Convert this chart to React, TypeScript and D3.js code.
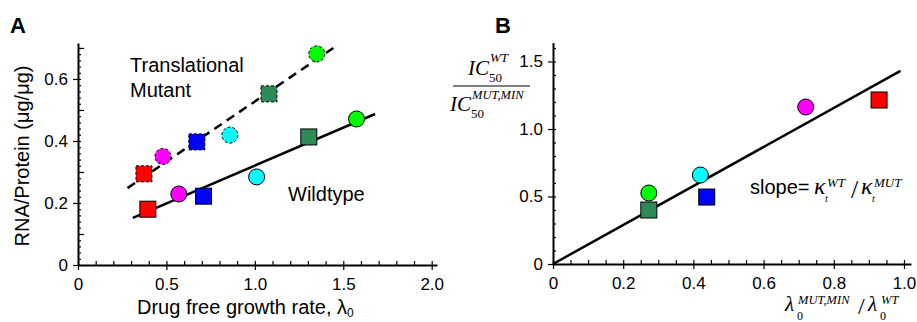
import React, { useEffect, useRef } from 'react';
import * as d3 from 'd3';

// strains, same order in both panels
const strainColors = ['#ff0000', '#ff00ff', '#0000ff', '#00ffff', '#2e8b57', '#00ff00'];
const strainShapes = ['square', 'circle', 'square', 'circle', 'square', 'circle'];

// panel A: drug free growth rate vs RNA/protein
const wtGrowth = [0.395, 0.57, 0.71, 1.01, 1.305, 1.575];
const wtRnaProtein = [0.18, 0.229, 0.222, 0.284, 0.413, 0.471];
const mutGrowth = [0.373, 0.48, 0.672, 0.859, 1.08, 1.35];
const mutRnaProtein = [0.294, 0.35, 0.397, 0.419, 0.552, 0.681];
const wtFitX = [0.31, 1.68];
const wtFitY = [0.152, 0.487];
const mutFitX = [0.28, 1.452];
const mutFitY = [0.248, 0.703];

// panel B: growth rate ratio vs IC50 ratio
const growthRatio = [0.929, 0.72, 0.438, 0.42, 0.273, 0.273];
const ic50Ratio = [1.215, 1.163, 0.496, 0.659, 0.4, 0.526];
const fitBX = [0, 0.99];
const fitBY = [0, 1.43];

const xTicksA = [0, 0.5, 1.0, 1.5, 2.0];
const yTicksA = [0, 0.2, 0.4, 0.6];
const xTicksB = [0, 0.2, 0.4, 0.6, 0.8, 1.0];
const yTicksB = [0, 0.5, 1.0, 1.5];

const SANS = 'Liberation Sans, Arial, Helvetica, sans-serif';
const SERIF = 'Liberation Serif, Times New Roman, serif';

const fmt = (d: number) => (d === 0 ? '0' : d3.format('.1f')(d));

const App = () => {
  const svgRef = useRef<SVGSVGElement>(null);

  useEffect(() => {
    const width = 917;
    const height = 322;
    const svg = d3.select(svgRef.current).attr('width', width).attr('height', height);
    svg.selectAll('*').remove();

    const xA = d3.scaleLinear().domain([0, 2.03]).range([78, 437]);
    const yA = d3.scaleLinear().domain([0, 0.716]).range([265, 43]);
    const xB = d3.scaleLinear().domain([0, 1.02]).range([553, 911]);
    const yB = d3.scaleLinear().domain([0, 1.64]).range([264, 42.6]);

    const styleAxis = (g: any) => {
      g.selectAll('path.domain').attr('stroke', '#000').attr('stroke-width', 2);
      g.selectAll('line').attr('stroke', '#000').attr('stroke-width', 1.2);
      g.selectAll('text').attr('font-family', SANS).attr('font-size', 17).attr('fill', '#000');
    };

    const drawAxes = (x: any, y: any, xTicks: number[], yTicks: number[], xMinor: number[], yMinor: number[], yMid: number[]) => {
      const x0 = x.range()[0];
      const y0 = y.range()[0];
      // minor ticks, inside the plot
      svg.append('g').attr('transform', `translate(0,${y0})`)
        .call(d3.axisTop(x).tickValues(xMinor).tickSize(4).tickFormat(() => ''))
        .call(styleAxis).call((g: any) => g.select('.domain').remove());
      svg.append('g').attr('transform', `translate(${x0},0)`)
        .call(d3.axisRight(y).tickValues(yMinor).tickSize(3).tickFormat(() => ''))
        .call(styleAxis).call((g: any) => g.select('.domain').remove());
      svg.append('g').attr('transform', `translate(${x0},0)`)
        .call(d3.axisRight(y).tickValues(yMid).tickSize(6).tickFormat(() => ''))
        .call(styleAxis).call((g: any) => g.select('.domain').remove());
      // major ticks with labels
      svg.append('g').attr('transform', `translate(0,${y0})`)
        .call(d3.axisBottom(x).tickValues(xTicks).tickSize(5).tickSizeOuter(0).tickPadding(8).tickFormat(fmt as any))
        .call(styleAxis);
      svg.append('g').attr('transform', `translate(${x0},0)`)
        .call(d3.axisLeft(y).tickValues(yTicks).tickSize(5).tickSizeOuter(0).tickPadding(5).tickFormat(fmt as any))
        .call(styleAxis);
    };

    drawAxes(xA, yA, xTicksA, yTicksA,
      d3.range(0, 2.01, 0.1), d3.range(0, 0.72, 0.02), d3.range(0.1, 0.72, 0.2));
    drawAxes(xB, yB, xTicksB, yTicksB,
      d3.range(0, 1.01, 0.05), d3.range(0, 1.64, 0.1), []);

    const line = (x: any, y: any) => d3.line<number>().x((d) => x(d[0])).y((d) => y(d[1]));

    const drawFit = (xs: number[], ys: number[], x: any, y: any, dash: string | null) => {
      svg.append('path')
        .datum(xs.map((v, i) => [v, ys[i]]) as any)
        .attr('d', line(x, y) as any)
        .attr('fill', 'none')
        .attr('stroke', '#000')
        .attr('stroke-width', 2.5)
        .attr('stroke-dasharray', dash);
    };

    const drawMarkers = (xs: number[], ys: number[], x: any, y: any, dash: string | null) => {
      const g = svg.append('g');
      xs.forEach((v, i) => {
        const cx = x(v);
        const cy = y(ys[i]);
        const el = strainShapes[i] === 'square'
          ? g.append('rect').attr('x', cx - 8).attr('y', cy - 8).attr('width', 16).attr('height', 16)
          : g.append('circle').attr('cx', cx).attr('cy', cy).attr('r', 8);
        el.attr('fill', strainColors[i]).attr('stroke', '#000').attr('stroke-width', 1)
          .attr('stroke-dasharray', dash);
      });
    };

    drawFit(wtFitX, wtFitY, xA, yA, null);
    drawFit(mutFitX, mutFitY, xA, yA, '9,6');
    drawMarkers(wtGrowth, wtRnaProtein, xA, yA, null);
    drawMarkers(mutGrowth, mutRnaProtein, xA, yA, '3,2');

    drawFit(fitBX, fitBY, xB, yB, null);
    drawMarkers(growthRatio, ic50Ratio, xB, yB, null);

    const text = (x: number, y: number, s: string, size: number, opts: any = {}) =>
      svg.append('text')
        .attr('x', x).attr('y', y)
        .attr('font-family', opts.family || SANS)
        .attr('font-size', size)
        .attr('font-style', opts.italic ? 'italic' : 'normal')
        .attr('font-weight', opts.bold ? 'bold' : 'normal')
        .attr('text-anchor', opts.anchor || 'start')
        .attr('fill', '#000')
        .text(s);

    // panel letters
    text(10, 33, 'A', 22, { bold: true });
    text(495, 33, 'B', 22, { bold: true });

    // panel A annotations
    text(130, 72, 'Translational', 20);
    text(130, 97, 'Mutant', 20);
    text(288, 201, 'Wildtype', 20);

    // panel A axis titles
    const xl = text(137, 314, 'Drug free growth rate, λ', 20);
    xl.append('tspan').attr('font-size', 12).attr('dy', 3).text('0');
    svg.append('text')
      .attr('transform', 'translate(29,156) rotate(-90)')
      .attr('text-anchor', 'middle')
      .attr('font-family', SANS).attr('font-size', 20).attr('fill', '#000')
      .text('RNA/Protein (μg/μg)');

    // panel B y title: IC50^WT / IC50^MUT,MIN
    text(468, 75, 'IC', 21, { family: SERIF, italic: true });
    text(490, 62, 'WT', 13, { family: SERIF, italic: true });
    text(489, 82, '50', 13, { family: SERIF });
    svg.append('line').attr('x1', 453).attr('x2', 530).attr('y1', 86).attr('y2', 86)
      .attr('stroke', '#000').attr('stroke-width', 1);
    text(450, 111, 'IC', 21, { family: SERIF, italic: true });
    text(472, 99, 'MUT,MIN', 12.5, { family: SERIF, italic: true });
    text(471, 118, '50', 13, { family: SERIF });

    // panel B x title: lambda0^MUT,MIN / lambda0^WT
    text(785, 311, 'λ', 21, { family: SERIF, italic: true });
    text(797, 320, '0', 12, { family: SERIF });
    text(798, 304, 'MUT,MIN', 12.5, { family: SERIF, italic: true });
    text(858, 314, '/', 24, { family: SERIF });
    text(868, 311, 'λ', 21, { family: SERIF, italic: true });
    text(880, 320, '0', 12, { family: SERIF });
    text(881, 304, 'WT', 12.5, { family: SERIF, italic: true });

    // slope annotation
    text(750, 194, 'slope=', 20);
    text(814, 194, 'κ', 24, { family: SERIF, italic: true });
    text(827, 187, 'WT', 13, { family: SERIF, italic: true });
    text(825, 202, 't', 10, { family: SERIF, italic: true });
    text(851, 198, '/', 26, { family: SERIF });
    text(861, 194, 'κ', 24, { family: SERIF, italic: true });
    text(874, 187, 'MUT', 13, { family: SERIF, italic: true });
    text(872, 202, 't', 10, { family: SERIF, italic: true });
  }, []);

  return (
    <svg ref={svgRef} style={{ position: 'absolute', left: 0, top: 0, background: '#fff' }}></svg>
  );
};

export default App;
